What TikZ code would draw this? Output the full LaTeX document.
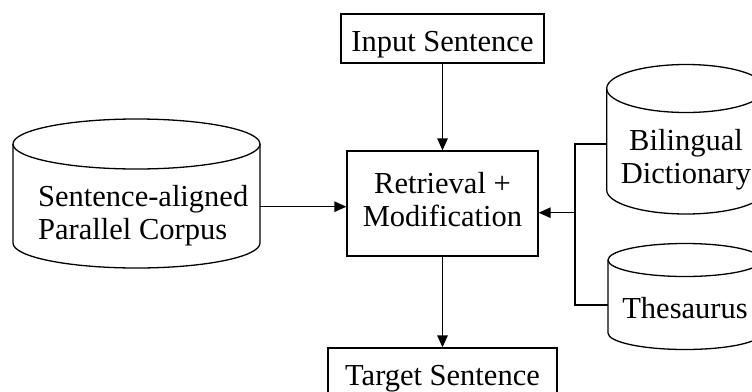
\documentclass[tikz,border=0pt]{standalone}
\usepackage{fontspec}
\setmainfont{Liberation Serif}
\usetikzlibrary{arrows.meta}
\tikzset{
  line/.style={draw=black, line width=1.3pt},
  box/.style={line, rectangle, inner sep=0pt},
  label/.style={font=\fontsize{30.5}{33}\selectfont, inner sep=0pt},
  arr/.style={line, -{Triangle[length=12pt,width=10.5pt]}},
  hole/.style={inner sep=0pt, draw=none, rectangle}
}
% database drum: centre x, top-ellipse y, bottom-ellipse y, x radius, y radius
\newcommand\drumshape[5]{%
  \draw[line] (#1-#4,#2) -- (#1-#4,#3)
    arc[start angle=180, end angle=360, x radius=#4pt, y radius=#5pt]
    -- (#1+#4,#2);
  \draw[line] (#1,#2) ellipse[x radius=#4pt, y radius=#5pt];
}
\begin{document}
\begin{tikzpicture}[x=1pt,y=-1pt]
\useasboundingbox (0,0) rectangle (752,391);
\clip (0,0) rectangle (752,391);

% process boxes
\node[box, minimum width=203pt, minimum height=49pt] (inbox) at (442.5,38.5) {};
\node[label, anchor=base] (intext) at (442.5,51.7) {Input Sentence};
\node[box, minimum width=191pt, minimum height=105pt] (retr) at (442.5,203.5) {};
\node[label, align=center] (retrtext) at (442.5,199.6) {Retrieval +\\Modification};
\node[box, minimum width=229pt, minimum height=49pt] (outbox) at (442.5,372.5) {};
\node[label, anchor=base] (outtext) at (442.5,385.3) {Target Sentence};

% databases
\drumshape{136.5}{144}{243}{123.5}{25}
\node[hole, minimum width=247pt, minimum height=149pt] (corpus) at (136.5,193.5) {};
\node[label, align=left, anchor=west] (corpustext) at (38,215.4) {Sentence-aligned\\Parallel Corpus};

\drumshape{686}{88.5}{190}{79.3}{24}
\node[hole, minimum width=158.6pt, minimum height=150pt] (dict) at (686,139) {};
\node[label, align=center] (dicttext) at (686,159.4) {Bilingual\\Dictionary};

\drumshape{685}{260}{333}{77}{16.5}
\node[hole, minimum width=154pt, minimum height=106pt] (thes) at (685,296.5) {};
\node[label, anchor=base] (thestext) at (685,318) {Thesaurus};

% connectors
\draw[arr] (inbox) -- (retr);
\draw[arr] (retr) -- (outbox);
\coordinate (corpusout) at (corpus.east |- 0,206.7);
\draw[arr] (corpusout) -- (corpusout -| retr.west);
\coordinate (bustop) at (575,144);
\coordinate (busbot) at (575,305);
\coordinate (busin) at (575,212.7);
\draw[line] (dict.west |- bustop) -- (bustop) -- (busbot) -- (thes.west |- busbot);
\draw[arr] (busin) -- (busin -| retr.east);
\end{tikzpicture}
\end{document}
